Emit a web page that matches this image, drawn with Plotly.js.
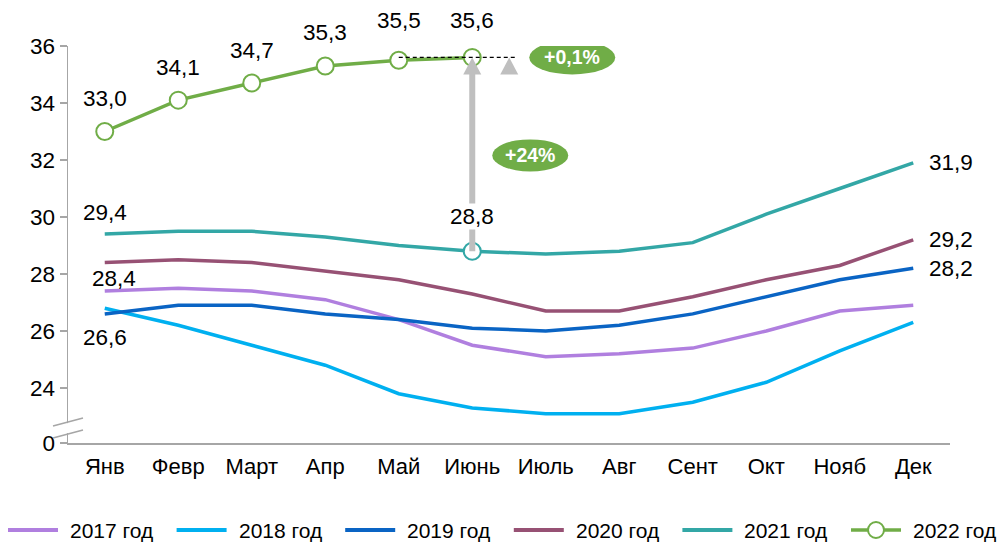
<!DOCTYPE html>
<html>
<head>
<meta charset="utf-8">
<script src="https://cdn.plot.ly/plotly-3.0.1.min.js"></script>
<style>html,body{margin:0;padding:0;background:#fff;}#chart{width:1003px;height:543px;}</style>
</head>
<body>
<div id="chart"></div>
<script>
// ---- data ----
const months = ['Янв','Февр','Март','Апр','Май','Июнь','Июль','Авг','Сент','Окт','Нояб','Дек'];
const y2017 = [27.4, 27.5, 27.4, 27.1, 26.4, 25.5, 25.1, 25.2, 25.4, 26.0, 26.7, 26.9];
const y2018 = [26.8, 26.2, 25.5, 24.8, 23.8, 23.3, 23.1, 23.1, 23.5, 24.2, 25.3, 26.3];
const y2019 = [26.6, 26.9, 26.9, 26.6, 26.4, 26.1, 26.0, 26.2, 26.6, 27.2, 27.8, 28.2];
const y2020 = [28.4, 28.5, 28.4, 28.1, 27.8, 27.3, 26.7, 26.7, 27.2, 27.8, 28.3, 29.2];
const y2021 = [29.4, 29.5, 29.5, 29.3, 29.0, 28.8, 28.7, 28.8, 29.1, 30.1, 31.0, 31.9];
const y2022 = [33.0, 34.1, 34.7, 35.3, 35.5, 35.6];
const seriesNames = ['2017 год','2018 год','2019 год','2020 год','2021 год','2022 год'];
const yTickVals = [24, 26, 28, 30, 32, 34, 36];
const pillMonth = '+0,1%';
const pillYear = '+24%';

// ---- styling ----
const FONT = '"Liberation Sans", Arial, sans-serif';
const colors = ['#b07fdf', '#00b0f0', '#0a64c4', '#975174', '#33a7a6', '#70ad47'];
const GREY = '#a6a6a6';
const ARROW = '#bfbfbf';
const W = 1003, H = 543;
const M = {l: 68, r: 53, t: 46, b: 100};
const PW = W - M.l - M.r, PH = H - M.t - M.b;
const yBottom = 22.07; // position of broken-axis "0"
const xs = months.map((m, i) => i);
const fmt = v => v.toFixed(1).replace('.', ',');
const px2paperX = px => (px - M.l) / PW;
const px2paperY = py => (H - M.b - py) / PH;

const allSeries = [y2017, y2018, y2019, y2020, y2021];
const traces = allSeries.map((ys, k) => ({
  type: 'scatter', mode: 'lines', name: seriesNames[k],
  x: xs.slice(0, ys.length), y: ys,
  line: {color: colors[k], width: 3.5}
}));
// teal June marker
traces.push({
  type: 'scatter', mode: 'markers', showlegend: false,
  x: [5], y: [y2021[5]],
  marker: {symbol: 'circle', size: 17, color: '#fff', line: {color: colors[4], width: 2}}
});
traces.push({
  type: 'scatter', mode: 'lines+markers', name: seriesNames[5],
  x: xs.slice(0, y2022.length), y: y2022,
  line: {color: colors[5], width: 3.5},
  marker: {symbol: 'circle', size: 17, color: '#fff', line: {color: colors[5], width: 2}}
});

const annotations = [];
const lab = (x, y, text, opts) => Object.assign({
  x, y, xref: 'x', yref: 'y', text, showarrow: false,
  font: {family: FONT, size: 22.5, color: '#000'}
}, opts || {});

// 2022 labels
y2022.forEach((v, i) => {
  let ys = 33;
  if (i === 4) ys = 40;
  if (i === 5) ys = 37;
  annotations.push(lab(i, v, fmt(v), {yshift: ys}));
});
annotations.push(lab(0, y2021[0], fmt(y2021[0]), {yshift: 22}));
annotations.push(lab(0, y2020[0], fmt(y2020[0]), {yshift: -16, xshift: 9}));
annotations.push(lab(0, y2019[0], fmt(y2019[0]), {yshift: -24}));
annotations.push(lab(5, y2021[5], fmt(y2021[5]), {yshift: 35, bgcolor: '#fff', borderpad: 0}));
[y2021, y2020, y2019].forEach(arr => {
  annotations.push(lab(11, arr[11], fmt(arr[11]), {xanchor: 'left', xshift: 14}));
});

// pills (positions expressed relative to the June point)
const pxPerX = PW / 12;
const pxPerY = PH / (36 - yBottom);
const junTop = y2022[5];
const pill1x = 5 + 100 / pxPerX;
const pill2x = 5 + 58 / pxPerX;
const pill2y = junTop - 98 / pxPerY;
annotations.push({x: pill1x, y: junTop, xref: 'x', yref: 'y', text: '<b>' + pillMonth + '</b>', showarrow: false,
  font: {family: FONT, size: 19.5, color: '#fff'}});
annotations.push({x: pill2x, y: pill2y, xref: 'x', yref: 'y', text: '<b>' + pillYear + '</b>', showarrow: false,
  font: {family: FONT, size: 19.5, color: '#fff'}});

const shapes = [
  // dashed reference line
  {type: 'line', xref: 'x', yref: 'y', x0: 4, x1: 5 + 45 / pxPerX, y0: junTop, y1: junTop,
   line: {color: '#000', width: 1.2, dash: '4px,3px'}, layer: 'above'},
  // gray vertical arrow shaft
  {type: 'line', xref: 'x', yref: 'y', x0: 5, x1: 5, y0: y2021[5], y1: junTop - 15 / pxPerY,
   line: {color: ARROW, width: 6}, layer: 'above'},
  // arrow heads
  {type: 'path', xref: 'x', yref: 'y', xsizemode: 'pixel', ysizemode: 'pixel', xanchor: 5, yanchor: junTop,
   path: 'M-9,-17 L9,-17 L0,0 Z', fillcolor: ARROW, line: {width: 0}, layer: 'above'},
  {type: 'path', xref: 'x', yref: 'y', xsizemode: 'pixel', ysizemode: 'pixel', xanchor: 5 + 37 / pxPerX, yanchor: junTop,
   path: 'M-9,-17 L9,-17 L0,0 Z', fillcolor: ARROW, line: {width: 0}, layer: 'above'},
  // pills
  {type: 'circle', xref: 'x', yref: 'y', xsizemode: 'pixel', ysizemode: 'pixel', xanchor: pill1x, yanchor: junTop,
   x0: -43, x1: 43, y0: -17, y1: 17, fillcolor: colors[5], line: {width: 0}, layer: 'above'},
  {type: 'circle', xref: 'x', yref: 'y', xsizemode: 'pixel', ysizemode: 'pixel', xanchor: pill2x, yanchor: pill2y,
   x0: -38, x1: 38, y0: -16, y1: 16, fillcolor: colors[5], line: {width: 0}, layer: 'above'},
  // axis break
  {type: 'path', xref: 'paper', yref: 'paper', xsizemode: 'pixel', ysizemode: 'pixel', xanchor: 0, yanchor: 0,
   path: 'M-15,6 L15,14 L15,24 L-15,16 Z', fillcolor: '#fff', line: {width: 0}, layer: 'above'},
  {type: 'path', xref: 'paper', yref: 'paper', xsizemode: 'pixel', ysizemode: 'pixel', xanchor: 0, yanchor: 0,
   path: 'M-15,17 L15,25', line: {color: GREY, width: 1.5}, layer: 'above'},
  {type: 'path', xref: 'paper', yref: 'paper', xsizemode: 'pixel', ysizemode: 'pixel', xanchor: 0, yanchor: 0,
   path: 'M-15,5 L15,13', line: {color: GREY, width: 1.5}, layer: 'above'}
];

// legend row drawn below the plot (one row spanning the full page width)
const legStart = 8, legStep = 168.6, legY = 530;
seriesNames.forEach((name, k) => {
  const x0 = legStart + k * legStep;
  shapes.push({type: 'line', xref: 'paper', yref: 'paper',
    x0: px2paperX(x0), x1: px2paperX(x0 + 50), y0: px2paperY(legY), y1: px2paperY(legY),
    line: {color: colors[k], width: k === 5 ? 3.5 : 4}, layer: 'above'});
  if (k === 5) {
    shapes.push({type: 'circle', xref: 'paper', yref: 'paper', xsizemode: 'pixel', ysizemode: 'pixel',
      xanchor: px2paperX(x0 + 25), yanchor: px2paperY(legY), x0: -8, x1: 8, y0: -8, y1: 8,
      fillcolor: '#fff', line: {color: colors[5], width: 2}, layer: 'above'});
  }
  annotations.push({xref: 'paper', yref: 'paper', x: px2paperX(x0 + 60), y: px2paperY(legY),
    xanchor: 'left', yanchor: 'middle', text: name, showarrow: false,
    font: {family: FONT, size: 21, color: '#000'}});
});

const layout = {
  width: W, height: H,
  margin: M,
  paper_bgcolor: '#fff', plot_bgcolor: '#fff',
  font: {family: FONT, color: '#000'},
  showlegend: false,
  xaxis: {range: [-0.5, 11.5], tickvals: xs, ticktext: months, showgrid: false, zeroline: false,
    showline: true, linecolor: GREY, linewidth: 1.5, ticks: '', ticklabelstandoff: 3,
    tickfont: {family: FONT, size: 22, color: '#000'}, fixedrange: true},
  yaxis: {range: [yBottom, 36], tickvals: [yBottom].concat(yTickVals), ticktext: ['0'].concat(yTickVals.map(String)),
    showgrid: false, zeroline: false, showline: true, linecolor: GREY, linewidth: 1.5,
    ticks: 'outside', ticklen: 7, tickcolor: GREY, tickwidth: 1.5,
    tickfont: {family: FONT, size: 22.5, color: '#000'}, fixedrange: true},
  annotations, shapes
};

Plotly.newPlot('chart', traces, layout, {displayModeBar: false, staticPlot: true});
</script>
</body>
</html>
